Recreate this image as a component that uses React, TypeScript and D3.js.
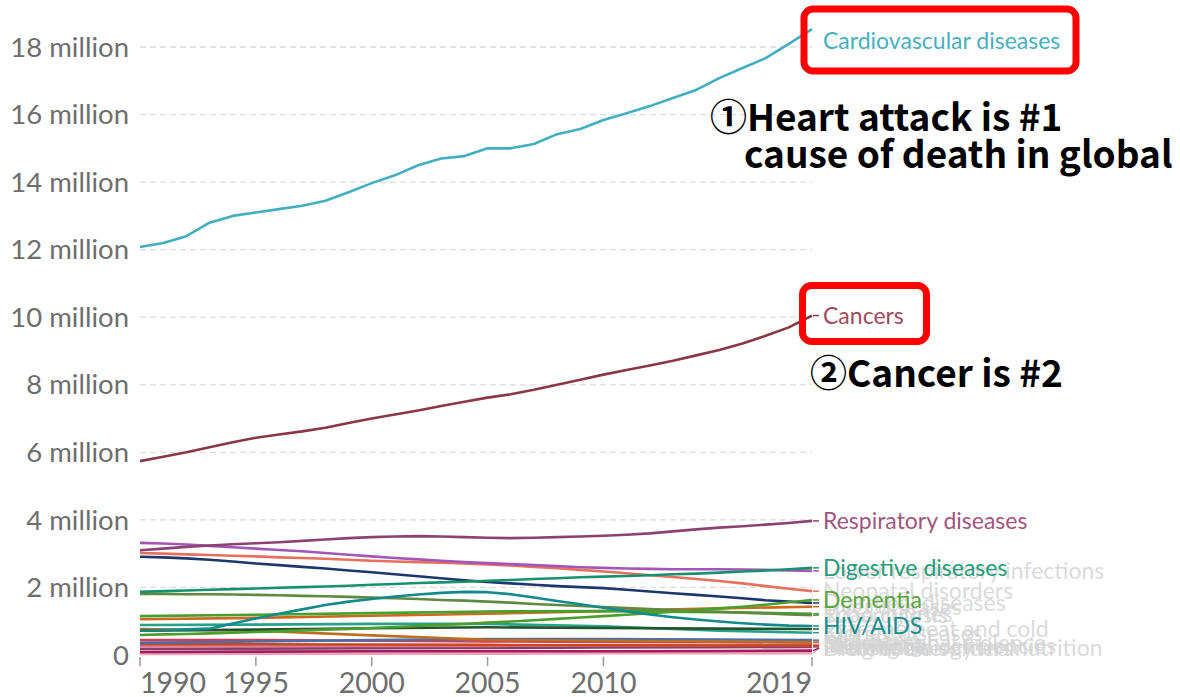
import * as d3 from "d3";
import { useRef, useEffect } from "react";

// deaths by cause, world, millions
const years = d3.range(1990, 2020);
const sparseYears = [1990, 1995, 2000, 2005, 2010, 2015, 2019];

const cardiovascular = [12.08, 12.2, 12.4, 12.8, 13.0, 13.1, 13.2, 13.3, 13.45, 13.7, 13.97, 14.2, 14.5, 14.7, 14.77, 15.0, 15.0, 15.13, 15.42, 15.57, 15.84, 16.04, 16.25, 16.49, 16.73, 17.08, 17.38, 17.67, 18.09, 18.53];
const cancers = [5.74, 5.87, 6.0, 6.15, 6.3, 6.43, 6.53, 6.62, 6.73, 6.87, 7.0, 7.12, 7.24, 7.37, 7.5, 7.62, 7.72, 7.85, 8.0, 8.15, 8.3, 8.44, 8.57, 8.71, 8.87, 9.03, 9.22, 9.45, 9.7, 10.05];
const respiratory = [3.1, 3.15, 3.2, 3.24, 3.28, 3.31, 3.34, 3.38, 3.42, 3.46, 3.49, 3.51, 3.52, 3.51, 3.49, 3.47, 3.46, 3.47, 3.49, 3.51, 3.53, 3.56, 3.6, 3.66, 3.72, 3.77, 3.81, 3.86, 3.91, 3.97];
const lowerRespiratory = [3.32, 3.3, 3.27, 3.23, 3.19, 3.15, 3.11, 3.07, 3.02, 2.97, 2.92, 2.87, 2.83, 2.79, 2.75, 2.72, 2.69, 2.66, 2.63, 2.6, 2.58, 2.56, 2.55, 2.54, 2.54, 2.54, 2.53, 2.52, 2.5, 2.49];
const neonatal = [3.02, 3.0, 2.98, 2.96, 2.94, 2.92, 2.89, 2.87, 2.85, 2.82, 2.79, 2.77, 2.75, 2.73, 2.71, 2.68, 2.65, 2.61, 2.57, 2.52, 2.47, 2.42, 2.36, 2.31, 2.25, 2.19, 2.12, 2.04, 1.96, 1.89];
const diarrheal = [2.91, 2.89, 2.86, 2.82, 2.77, 2.71, 2.66, 2.61, 2.56, 2.5, 2.45, 2.39, 2.33, 2.27, 2.21, 2.16, 2.12, 2.08, 2.04, 2.01, 1.98, 1.93, 1.88, 1.83, 1.78, 1.73, 1.68, 1.62, 1.58, 1.54];
const digestive = [1.87, 1.89, 1.91, 1.93, 1.95, 1.97, 1.99, 2.01, 2.03, 2.05, 2.08, 2.1, 2.13, 2.15, 2.17, 2.2, 2.22, 2.25, 2.27, 2.3, 2.32, 2.34, 2.36, 2.39, 2.41, 2.44, 2.47, 2.5, 2.54, 2.58];
const tuberculosis = [1.81, 1.81, 1.8, 1.8, 1.79, 1.78, 1.77, 1.75, 1.74, 1.72, 1.7, 1.68, 1.66, 1.63, 1.61, 1.58, 1.55, 1.51, 1.48, 1.45, 1.42, 1.39, 1.36, 1.33, 1.3, 1.28, 1.25, 1.23, 1.2, 1.18];
const hiv = [0.72, 0.74, 0.76, 0.78, 0.93, 1.08, 1.22, 1.35, 1.48, 1.58, 1.66, 1.73, 1.79, 1.84, 1.87, 1.86, 1.8, 1.7, 1.6, 1.5, 1.4, 1.3, 1.2, 1.12, 1.05, 0.99, 0.94, 0.9, 0.87, 0.86];
const dementia = [0.59, 0.61, 0.62, 0.64, 0.66, 0.68, 0.7, 0.73, 0.75, 0.77, 0.8, 0.83, 0.86, 0.89, 0.92, 0.96, 0.99, 1.03, 1.07, 1.11, 1.15, 1.19, 1.24, 1.28, 1.33, 1.38, 1.43, 1.49, 1.56, 1.63];

// smaller causes, read at five-year steps
const roadInjuries = [1.15, 1.19, 1.24, 1.29, 1.3, 1.27, 1.22];
const liverDiseases = [1.06, 1.1, 1.16, 1.22, 1.3, 1.38, 1.43];
const kidneyDiseases = [0.89, 0.9, 0.92, 0.92, 0.85, 0.72, 0.66];
const heatCold = [0.72, 0.75, 0.79, 0.82, 0.8, 0.78, 0.77];
const malaria = [0.77, 0.72, 0.58, 0.45, 0.42, 0.4, 0.38];
const selfHarm = [0.36, 0.4, 0.44, 0.47, 0.47, 0.46, 0.44];
const violence = [0.44, 0.44, 0.42, 0.4, 0.39, 0.38, 0.37];
const nutrition = [0.32, 0.32, 0.31, 0.3, 0.29, 0.28, 0.28];
const drowning = [0.27, 0.27, 0.27, 0.27, 0.28, 0.29, 0.3];
const meningitis = [0.18, 0.19, 0.2, 0.21, 0.22, 0.23, 0.24];
const drugUse = [0.09, 0.1, 0.11, 0.11, 0.11, 0.12, 0.13];
const malnutrition = [0.03, 0.04, 0.04, 0.04, 0.05, 0.05, 0.05];

const yTicks = [0, 2, 4, 6, 8, 10, 12, 14, 16, 18];
const xTicks = [1990, 1995, 2000, 2005, 2010, 2019];

const series = [
  { name: "Protein-energy malnutrition", x: sparseYears, v: malnutrition, shown: false },
  { name: "Drug use disorders", x: sparseYears, v: drugUse, shown: false },
  { name: "Meningitis", x: sparseYears, v: meningitis, shown: false },
  { name: "Drowning", x: sparseYears, v: drowning, shown: false },
  { name: "Nutritional deficiencies", x: sparseYears, v: nutrition, shown: false },
  { name: "Interpersonal violence", x: sparseYears, v: violence, shown: false },
  { name: "Self-harm", x: sparseYears, v: selfHarm, shown: false },
  { name: "Malaria", x: sparseYears, v: malaria, shown: false },
  { name: "Kidney diseases", x: sparseYears, v: kidneyDiseases, shown: false },
  { name: "Extreme heat and cold", x: sparseYears, v: heatCold, shown: false },
  { name: "Liver diseases", x: sparseYears, v: liverDiseases, shown: false },
  { name: "Road injuries", x: sparseYears, v: roadInjuries, shown: false },
  { name: "Tuberculosis", x: years, v: tuberculosis, shown: false },
  { name: "Diarrheal diseases", x: years, v: diarrheal, shown: false },
  { name: "Neonatal disorders", x: years, v: neonatal, shown: false },
  { name: "Lower respiratory infections", x: years, v: lowerRespiratory, shown: false },
  { name: "Dementia", x: years, v: dementia, shown: true },
  { name: "HIV/AIDS", x: years, v: hiv, shown: true },
  { name: "Digestive diseases", x: years, v: digestive, shown: true },
  { name: "Respiratory diseases", x: years, v: respiratory, shown: true },
  { name: "Cancers", x: years, v: cancers, shown: true },
  { name: "Cardiovascular diseases", x: years, v: cardiovascular, shown: true },
];

const lineColors: Record<string, string> = {
  "Cardiovascular diseases": "#41afbf",
  Cancers: "#8a3744",
  "Respiratory diseases": "#8c4270",
  "Lower respiratory infections": "#a455b5",
  "Neonatal disorders": "#e5705c",
  "Diarrheal diseases": "#1c376b",
  "Digestive diseases": "#17916d",
  Tuberculosis: "#5d8a3f",
  "HIV/AIDS": "#12898a",
  Dementia: "#4c9e2c",
  "Road injuries": "#45a02d",
  "Liver diseases": "#cc691f",
  "Kidney diseases": "#28a08a",
  "Extreme heat and cold": "#22552b",
  Malaria: "#bd6e1e",
  "Self-harm": "#4b6fa9",
  "Interpersonal violence": "#dc3a50",
  "Nutritional deficiencies": "#c9461f",
  Drowning: "#e8798f",
  Meningitis: "#8a3e6e",
  "Drug use disorders": "#a51a5c",
  "Protein-energy malnutrition": "#eaa3b5",
};

const labelColors: Record<string, string> = {
  "Cardiovascular diseases": "#49afc0",
  Cancers: "#a04b5a",
  "Respiratory diseases": "#a05580",
  "Digestive diseases": "#269b78",
  Dementia: "#58a53c",
  "HIV/AIDS": "#178e8d",
};

const App = () => {
  const ref = useRef<SVGSVGElement>(null);

  useEffect(() => {
    const svg = d3.select(ref.current);
    svg.selectAll("*").remove();

    const x = d3.scaleLinear().domain([1990, 2019]).range([140, 812]);
    const y = d3.scaleLinear().domain([0, 18]).range([655, 47]);
    const font = "Lato, 'Noto Sans', sans-serif";

    // grid
    svg
      .append("g")
      .selectAll("line")
      .data(yTicks.filter((d) => d > 0))
      .join("line")
      .attr("x1", 140)
      .attr("x2", 812)
      .attr("y1", (d) => y(d))
      .attr("y2", (d) => y(d))
      .attr("stroke", "#dcdcdc")
      .attr("stroke-width", 1.3)
      .attr("stroke-dasharray", "6,4");

    svg
      .append("g")
      .selectAll("text")
      .data(yTicks)
      .join("text")
      .attr("x", 129)
      .attr("y", (d) => y(d))
      .attr("dy", "0.35em")
      .attr("text-anchor", "end")
      .attr("font-family", font)
      .attr("font-size", 27.5)
      .attr("fill", "#6e6e6e")
      .text((d) => (d === 0 ? "0" : `${d} million`));

    // x axis
    svg
      .append("g")
      .selectAll("line")
      .data(xTicks)
      .join("line")
      .attr("x1", (d) => x(d))
      .attr("x2", (d) => x(d))
      .attr("y1", 657)
      .attr("y2", 666)
      .attr("stroke", "#9a9a9a")
      .attr("stroke-width", 1.5);

    svg
      .append("g")
      .selectAll("text")
      .data(xTicks)
      .join("text")
      .attr("x", (d) => x(d))
      .attr("y", 693)
      .attr("text-anchor", (d, i) => (i === 0 ? "start" : i === xTicks.length - 1 ? "end" : "middle"))
      .attr("font-family", font)
      .attr("font-size", 28.5)
      .attr("fill", "#6e6e6e")
      .text((d) => d);

    // lines
    const line = d3
      .line<[number, number]>()
      .x((d) => x(d[0]))
      .y((d) => y(d[1]));

    svg
      .append("g")
      .selectAll("path")
      .data(series)
      .join("path")
      .attr("d", (s) => line(s.x.map((yr, i) => [yr, s.v[i]] as [number, number])))
      .attr("fill", "none")
      .attr("stroke", (s) => lineColors[s.name])
      .attr("stroke-width", 2.6)
      .attr("stroke-linejoin", "round");

    // labels
    const labelY = (s: any) => Math.min(648, Math.max(41, y(s.v[s.v.length - 1])));

    svg
      .append("g")
      .selectAll("line")
      .data(series.filter((s) => labelY(s) > 41))
      .join("line")
      .attr("x1", 813)
      .attr("x2", 819)
      .attr("y1", (s) => y(s.v[s.v.length - 1]))
      .attr("y2", (s) => labelY(s))
      .attr("stroke", (s) => lineColors[s.name])
      .attr("stroke-width", 1.5);

    svg
      .append("g")
      .selectAll("text")
      .data(series.filter((s) => !s.shown))
      .join("text")
      .attr("x", 823)
      .attr("y", (s) => labelY(s))
      .attr("dy", "0.35em")
      .attr("font-family", font)
      .attr("font-size", 23)
      .attr("fill", "#d4d4d4")
      .attr("fill-opacity", 0.85)
      .text((s) => s.name);

    svg
      .append("g")
      .selectAll("text")
      .data(series.filter((s) => s.shown))
      .join("text")
      .attr("x", 823)
      .attr("y", (s) => labelY(s))
      .attr("dy", "0.35em")
      .attr("font-family", font)
      .attr("font-size", 23)
      .attr("fill", (s) => labelColors[s.name])
      .text((s) => s.name);

    // annotation boxes
    const boxes = [
      { x: 804, y: 9, w: 272, h: 62 },
      { x: 802.5, y: 285.5, w: 124, h: 56 },
    ];
    svg
      .append("g")
      .selectAll("rect")
      .data(boxes)
      .join("rect")
      .attr("x", (d) => d.x)
      .attr("y", (d) => d.y)
      .attr("width", (d) => d.w)
      .attr("height", (d) => d.h)
      .attr("rx", 9)
      .attr("fill", "none")
      .attr("stroke", "#ff0000")
      .attr("stroke-width", 7);

    const notes = [
      { t: "①Heart attack is #1", x: 710, y: 131 },
      { t: "cause of death in global", x: 744, y: 168 },
      { t: "②Cancer is #2", x: 810, y: 387 },
    ];
    svg
      .append("g")
      .selectAll("text")
      .data(notes)
      .join("text")
      .attr("x", (d) => d.x)
      .attr("y", (d) => d.y)
      .attr("font-family", "'Noto Sans CJK JP', 'Noto Sans', sans-serif")
      .attr("font-weight", 700)
      .attr("font-size", 37)
      .attr("fill", "#000")
      .text((d) => d.t);
  }, []);

  return (
    <svg
      ref={ref}
      width={1180}
      height={697}
      style={{ position: "absolute", left: 0, top: 0, background: "#fff" }}
    />
  );
};

export default App;
